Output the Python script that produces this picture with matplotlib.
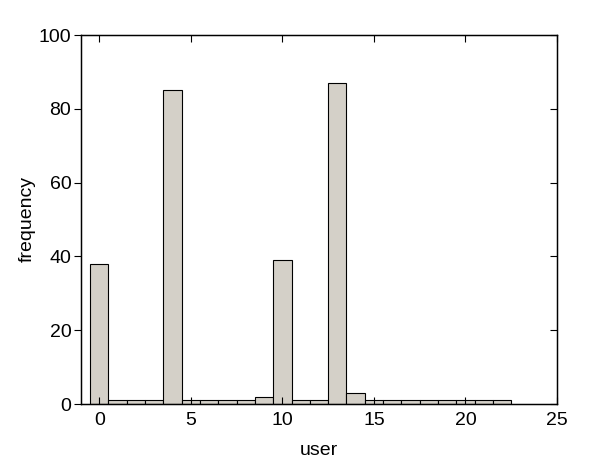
import numpy as np
import matplotlib
matplotlib.use('Agg')
import matplotlib.pyplot as plt

plt.rcParams['font.family'] = ['Liberation Sans', 'DejaVu Sans']

users = np.arange(23)
freq = [38, 1, 1, 1, 85, 1, 1, 1, 1, 2, 39, 1, 1, 87, 3,
        1, 1, 1, 1, 1, 1, 1, 1]

fig = plt.figure(figsize=(6.16, 4.61), dpi=100)
ax = fig.add_axes([81/616, 1 - 404/461, (557-81)/616, (404-35)/461])

ax.bar(users, freq, width=1.0, color='#d4d0c8', edgecolor='black',
       linewidth=0.8)

ax.set_xlim(-1, 25)
ax.set_ylim(0, 100)
ax.set_xticks([0, 5, 10, 15, 20, 25])
ax.set_yticks([0, 20, 40, 60, 80, 100])
ax.tick_params(axis='x', direction='in', top=True, labelsize=14, length=5, pad=6)
ax.tick_params(axis='y', direction='out', labelsize=14, length=5, pad=2)
for s in ax.spines.values():
    s.set_linewidth(1.0)

ax2 = ax.twinx()
ax2.set_ylim(0, 100)
ax2.set_yticks([0, 20, 40, 60, 80, 100])
ax2.tick_params(axis='y', direction='in', length=5, labelright=False)

ax.set_xlabel('user', fontsize=14, labelpad=9)
ax.set_ylabel('frequency', fontsize=14, labelpad=2)

fig.savefig('out.png', dpi=100)
